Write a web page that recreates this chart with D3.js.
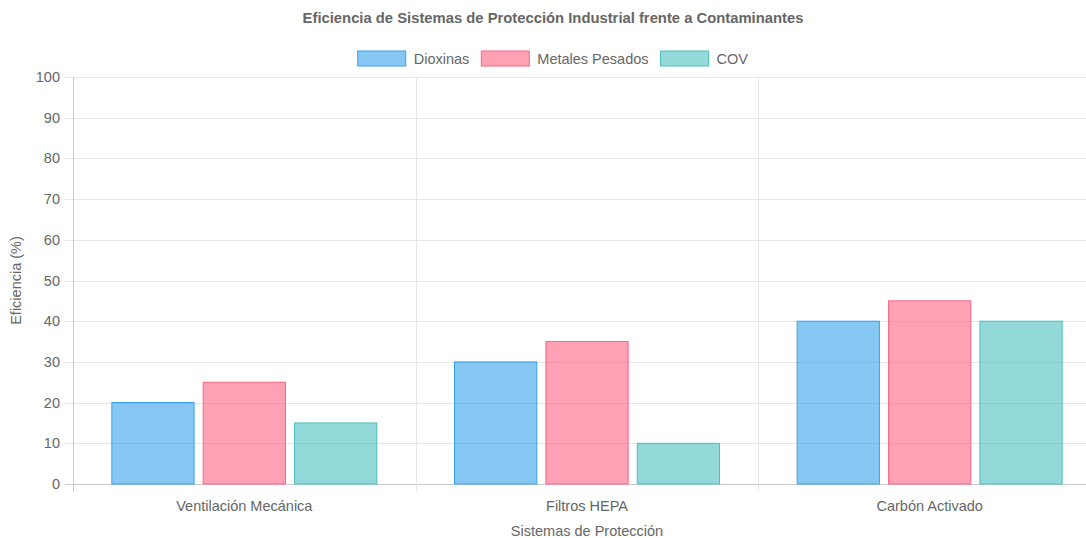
<!DOCTYPE html>
<html>
<head>
<meta charset="utf-8">
<script src="https://cdn.jsdelivr.net/npm/d3@7"></script>
<style>
	body { margin: 0; background: #fff; overflow: hidden; }
	text { font-family: "Liberation Sans", Arial, Helvetica, sans-serif; fill: #666; }
</style>
</head>
<body>
<div id="chart"></div>
<script>
const categories = ['Ventilación Mecánica', 'Filtros HEPA', 'Carbón Activado'];
const seriesNames = ['Dioxinas', 'Metales Pesados', 'COV'];
const dioxinas = [20, 30, 40];
const metales = [25, 35, 45];
const cov = [15, 10, 40];
const yTicks = [0, 10, 20, 30, 40, 50, 60, 70, 80, 90, 100];

const seriesValues = [dioxinas, metales, cov];
const fills = ['rgba(54,162,235,0.6)', 'rgba(255,99,132,0.6)', 'rgba(75,192,192,0.6)'];
const strokes = ['rgb(54,162,235)', 'rgb(255,99,132)', 'rgb(75,192,192)'];

// canvas is a bit wider than the window, right side gets clipped
const width = 1106;
const height = 538;
const margin = { top: 77, right: 5, bottom: 54, left: 73 };
const fs = 14.5;

const svg = d3.select('#chart')
	.append('svg')
	.attr('width', width)
	.attr('height', height);

const x0 = d3.scaleBand()
	.domain(categories)
	.range([margin.left, width - margin.right])
	.paddingInner(0)
	.paddingOuter(0);

const x1 = d3.scaleBand()
	.domain(seriesNames)
	.range([x0.bandwidth() * 0.1, x0.bandwidth() * 0.9])
	.padding(0);

const y = d3.scaleLinear()
	.domain([0, 100])
	.range([height - margin.bottom, margin.top]);

const grid = svg.append('g');

// horizontal grid
grid.selectAll('line.h')
	.data(yTicks)
	.join('line')
	.attr('class', 'h')
	.attr('x1', margin.left - 8)
	.attr('x2', width - margin.right)
	.attr('y1', (d) => Math.round(y(d)) + 0.5)
	.attr('y2', (d) => Math.round(y(d)) + 0.5)
	.attr('stroke', (d) => d === 0 ? '#cccccc' : '#e6e6e6');

// vertical grid at category edges
const edges = categories.map((c) => x0(c)).concat([width - margin.right]);
grid.selectAll('line.v')
	.data(edges)
	.join('line')
	.attr('class', 'v')
	.attr('x1', (d) => Math.round(d) + 0.5)
	.attr('x2', (d) => Math.round(d) + 0.5)
	.attr('y1', margin.top)
	.attr('y2', height - margin.bottom + 8)
	.attr('stroke', (d, i) => i === 0 ? '#cccccc' : '#e6e6e6');

// bars
const groups = svg.append('g')
	.selectAll('g')
	.data(categories)
	.join('g')
	.attr('transform', (d) => `translate(${x0(d)},0)`);

groups.selectAll('rect')
	.data((c, ci) => seriesNames.map((s, si) => ({ s, si, v: seriesValues[si][ci] })))
	.join('rect')
	.attr('x', (d) => x1(d.s) + x1.bandwidth() * 0.05)
	.attr('width', x1.bandwidth() * 0.9)
	.attr('y', (d) => y(d.v))
	.attr('height', (d) => y(0) - y(d.v))
	.attr('fill', (d) => fills[d.si])
	.attr('stroke', (d) => strokes[d.si])
	.attr('stroke-width', 1);

// y tick labels
svg.append('g')
	.selectAll('text')
	.data(yTicks)
	.join('text')
	.attr('x', margin.left - 13)
	.attr('y', (d) => y(d))
	.attr('dy', '0.35em')
	.attr('text-anchor', 'end')
	.attr('font-size', fs)
	.text((d) => d);

// x tick labels
svg.append('g')
	.selectAll('text')
	.data(categories)
	.join('text')
	.attr('x', (d) => x0(d) + x0.bandwidth() / 2)
	.attr('y', height - margin.bottom + 27)
	.attr('text-anchor', 'middle')
	.attr('font-size', fs)
	.text((d) => d);

// axis titles
svg.append('text')
	.attr('x', (margin.left + width - margin.right) / 2)
	.attr('y', 536)
	.attr('text-anchor', 'middle')
	.attr('font-size', fs)
	.text('Sistemas de Protección');

svg.append('text')
	.attr('transform', `translate(21,${(margin.top + height - margin.bottom) / 2}) rotate(-90)`)
	.attr('text-anchor', 'middle')
	.attr('font-size', fs)
	.text('Eficiencia (%)');

// title
svg.append('text')
	.attr('x', width / 2)
	.attr('y', 23)
	.attr('text-anchor', 'middle')
	.attr('font-size', 14.8)
	.attr('font-weight', 'bold')
	.text('Eficiencia de Sistemas de Protección Industrial frente a Contaminantes');

// legend
const legend = svg.append('g');
const items = legend.selectAll('g')
	.data(seriesNames)
	.join('g');
items.append('rect')
	.attr('width', 48)
	.attr('height', 15)
	.attr('y', 51)
	.attr('fill', (d, i) => fills[i])
	.attr('stroke', (d, i) => strokes[i]);
items.append('text')
	.attr('x', 56)
	.attr('y', 58.5)
	.attr('dy', '0.35em')
	.attr('font-size', fs)
	.text((d) => d);

let widths = [];
items.each(function () { widths.push(this.getBBox().width); });
const gap = 12;
const total = d3.sum(widths) + gap * (widths.length - 1);
let cx = width / 2 - total / 2;
items.attr('transform', (d, i) => {
	const t = `translate(${cx},0)`;
	cx += widths[i] + gap;
	return t;
});
</script>
</body>
</html>
